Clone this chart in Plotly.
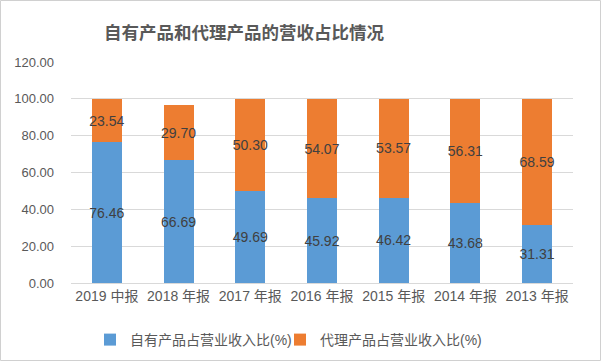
import plotly.graph_objects as go

categories = ["2019 中报", "2018 年报", "2017 年报", "2016 年报", "2015 年报", "2014 年报", "2013 年报"]
own_share = [76.46, 66.69, 49.69, 45.92, 46.42, 43.68, 31.31]
agency_share = [23.54, 29.70, 50.30, 54.07, 53.57, 56.31, 68.59]
series_names = ["自有产品占营业收入比(%)", "代理产品占营业收入比(%)"]
title_text = "自有产品和代理产品的营收占比情况"

FONT = "Liberation Sans, Noto Sans CJK SC, sans-serif"
W, H = 602, 362
ML, MR, MT, MB = 71, 29, 62, 79
PW, PH = W - ML - MR, H - MT - MB

fig = go.Figure()
for name, vals, color, lg in [(series_names[0], own_share, "#5B9BD5", "legend"),
                              (series_names[1], agency_share, "#ED7D31", "legend2")]:
    fig.add_trace(go.Bar(
        x=categories, y=vals, name=name, marker_color=color,
        marker_line_width=0, width=0.42, legend=lg,
        text=[f"{v:.2f}" for v in vals], textposition="inside",
        insidetextanchor="middle", textangle=0, constraintext="none",
        textfont=dict(family=FONT, size=14, color="#404040"),
        hoverinfo="x+y+name",
    ))

leg_common = dict(orientation="h", xanchor="left", yanchor="middle",
                  y=-(340 - (H - MB)) / PH, font=dict(size=14, color="#595959"),
                  bgcolor="rgba(0,0,0,0)")

fig.update_layout(
    barmode="stack",
    width=W, height=H,
    margin=dict(l=ML, r=MR, t=MT, b=MB, autoexpand=False),
    paper_bgcolor="white", plot_bgcolor="white",
    font=dict(family=FONT, color="#595959", size=12),
    title=dict(text="<b>" + title_text + "</b>", x=244 / W, xref="container",
               xanchor="center", y=1 - 33 / H, yref="container", yanchor="middle",
               font=dict(size=17.5, color="#595959", family="Noto Sans CJK SC, sans-serif")),
    xaxis=dict(showgrid=False, showline=True, linecolor="#D9D9D9", linewidth=1,
               ticks="", tickfont=dict(size=14, color="#595959")),
    yaxis=dict(range=[0, 120], dtick=20, tickformat=".2f", showgrid=True,
               gridcolor="#D9D9D9", gridwidth=1, zeroline=False, showline=False,
               ticks="", tickfont=dict(size=13, color="#595959"), ticklabelstandoff=16),
    legend=dict(x=(90 - ML) / PW, **leg_common),
    legend2=dict(x=(280 - ML) / PW, **leg_common),
    showlegend=True,
    shapes=[dict(type="rect", xref="paper", yref="paper",
                 x0=-(ML - 0.5) / PW, x1=1 + (MR - 1.5) / PW,
                 y0=-(MB - 1.5) / PH, y1=1 + (MT - 0.5) / PH,
                 line=dict(color="#D0D0D0", width=1), layer="above")],
)

fig.write_html("out.html", config={"displayModeBar": False},
               post_script="document.body.style.margin='0';document.body.style.overflow='hidden';")
